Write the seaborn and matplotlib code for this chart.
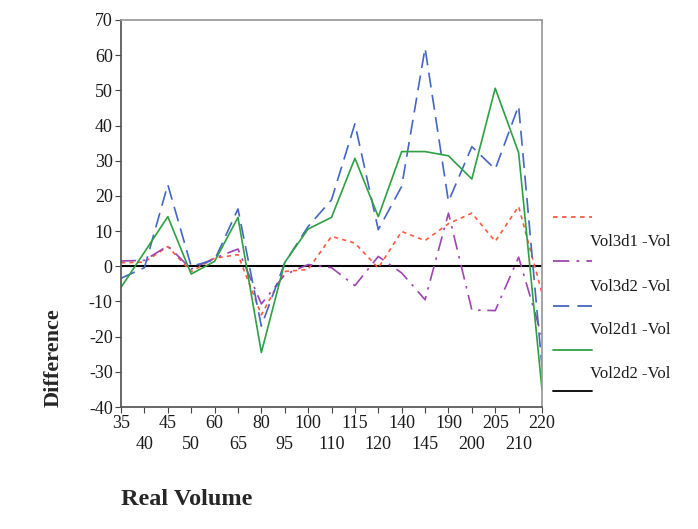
import numpy as np
import pandas as pd
import matplotlib
matplotlib.use("Agg")
import matplotlib.pyplot as plt
import seaborn as sns
from matplotlib.lines import Line2D

# categories on the x axis (real volume)
volumes = ["35", "40", "45", "50", "60", "65", "80", "95", "100", "110",
           "115", "120", "140", "145", "190", "200", "205", "210", "220"]

# differences
vol3d1 = [1.0, 1.2, 5.6, -1.5, 2.3, 3.3, -13.8, -1.5, -0.9, 8.5,
          6.6, -0.5, 9.9, 7.3, 12.1, 15.1, 7.1, 17.0, -7.6]
vol3d2 = [1.5, 1.7, 5.8, -0.8, 2.3, 4.9, -10.7, -2.4, 0.5, -0.4,
          -5.5, 2.8, -1.9, -9.5, 15.1, -12.4, -12.6, 2.6, -20.0]
vol2d1 = [-3.4, -0.4, 23.2, 0.0, 1.8, 16.3, -17.0, 1.0, 11.3, 18.9,
          40.5, 10.4, 22.7, 62.0, 18.4, 34.0, 27.6, 45.6, -28.5]
vol2d2 = [-6.0, 4.0, 14.1, -2.2, 1.4, 13.9, -24.5, 1.1, 10.6, 13.9,
          30.7, 14.1, 32.6, 32.6, 31.4, 24.8, 50.6, 32.3, -35.0]

legend_labels = ["Vol3d1 -Vol", "Vol3d2 -Vol", "Vol2d1 -Vol", "Vol2d2 -Vol"]

sns.set_theme(style="white")
plt.rcParams['font.family'] = ['Liberation Serif', 'DejaVu Serif']
plt.rcParams['axes.unicode_minus'] = False

fig = plt.figure(figsize=(6.98, 5.29), dpi=100)
ax = fig.add_axes([0.1734, 0.2306, 0.6031, 0.7316])

series = [
    (vol3d1, '#ff5a3c', (0, (2.5, 2.5))),
    (vol3d2, '#a044b4', (0, (9, 4, 1.5, 4))),
    (vol2d1, '#4466c4', (0, (9, 4.5))),
    (vol2d2, '#2ea043', '-'),
]
for vals, col, ls in series:
    df = pd.DataFrame({'vol': volumes, 'diff': vals})
    sns.lineplot(data=df, x='vol', y='diff', ax=ax, color=col,
                 linestyle=ls, linewidth=1.2, sort=False)

ax.axhline(0, color='black', linewidth=1.5, zorder=1)

ax.set_xlim(0, len(volumes) - 1)
ax.set_ylim(-40, 70)
ax.set_yticks(np.arange(-40, 71, 10))

# alternate the x labels on two rows
idx = np.arange(len(volumes))
ax.set_xticks(idx[::2], labels=volumes[::2])
ax.set_xticks(idx[1::2], labels=volumes[1::2], minor=True)
ax.tick_params(axis='both', which='both', direction='out', length=4, width=0.8,
               colors='#444444', labelcolor='#1a1a1a', labelsize=13, pad=2,
               bottom=True, left=True)
ax.tick_params(axis='x', which='minor', pad=17)

for side in ['left', 'bottom']:
    ax.spines[side].set_color('#555555')
for side in ['top', 'right']:
    ax.spines[side].set_color('#999999')

ax.set_xlabel('Real Volume', fontsize=17.5, fontweight='bold', loc='left', labelpad=26)
ax.set_ylabel('Difference', fontsize=16, fontweight='bold', loc='bottom', labelpad=18)

# legend drawn beside the axes, labels sit between the samples
line_styles = [(s[1], s[2]) for s in series] + [('black', '-')]
line_y = [217, 261, 306, 350, 391]
label_y = [242, 287, 330, 374]
H = 529.0
W = 698.0
for (col, ls), y in zip(line_styles, line_y):
    fig.add_artist(Line2D([553 / W, 592 / W], [1 - y / H, 1 - y / H],
                          transform=fig.transFigure, color=col,
                          linestyle=ls, linewidth=1.3))
for lab, y in zip(legend_labels, label_y):
    fig.text(590 / W, 1 - y / H, lab, fontsize=12, va='center', ha='left',
             color='#1a1a1a')

fig.savefig('out.png', dpi=100)
